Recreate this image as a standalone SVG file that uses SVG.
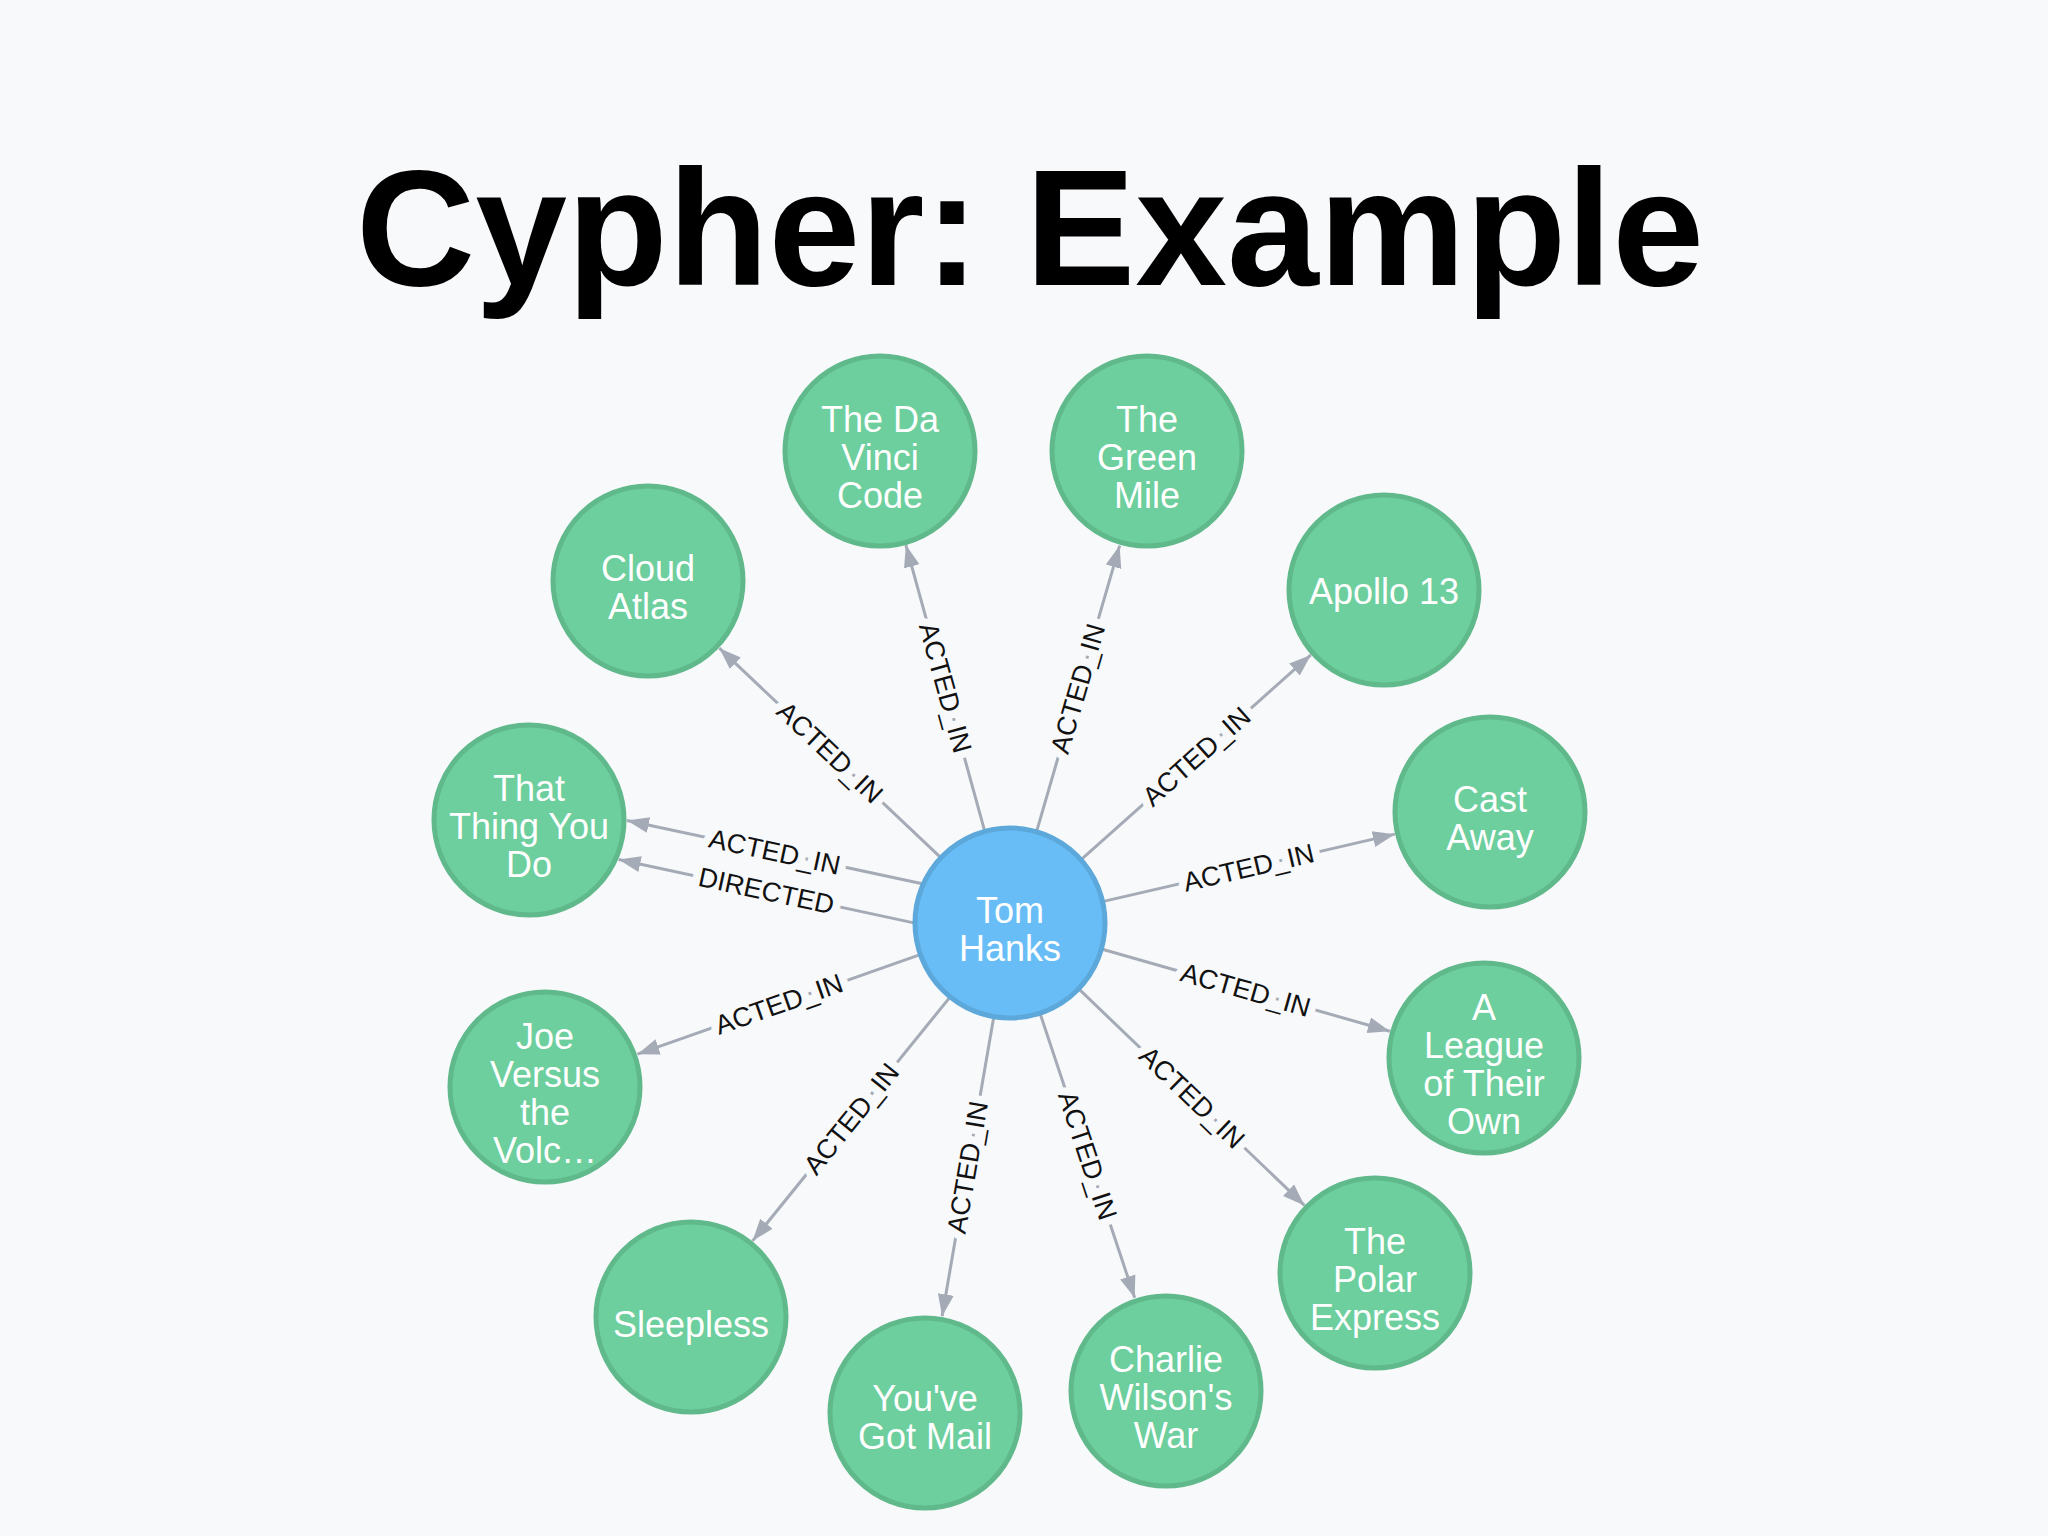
<svg xmlns="http://www.w3.org/2000/svg" width="2048" height="1536" viewBox="0 0 2048 1536">
<style>
.n circle{fill:#6dce9e;stroke:#60b98b;stroke-width:5}
#tom circle{fill:#68bdf6;stroke:#5ca8db}
.n text{font-family:"Liberation Sans",Arial,sans-serif;font-size:36px;fill:#fff;text-anchor:middle}
.e line{stroke:#a5abb6;stroke-width:3;marker-end:url(#ah)}
.e text{font-family:"Liberation Sans",Arial,sans-serif;font-size:27px;fill:#111;text-anchor:middle;dominant-baseline:central;stroke:#f8f9fb;stroke-width:16;paint-order:stroke}
</style>
<defs><marker id="ah" markerUnits="userSpaceOnUse" markerWidth="24" markerHeight="20" refX="22" refY="10" orient="auto"><path d="M0,2 L22,10 L0,18 z" fill="#a5abb6"/></marker></defs>
<rect width="2048" height="1536" fill="#f8f9fb"/>
<text x="1030" y="285" font-family="Liberation Sans,Arial,sans-serif" font-weight="bold" font-size="165" text-anchor="middle" fill="#000">Cypher: Example</text>
<g id="edges" class="e">
<g transform="translate(1010,923) rotate(-105.4)"><line x1="96" y1="0" x2="392" y2="0"/><text x="244" y="0" transform="rotate(180 244 0)">ACTED_IN</text></g>
<g transform="translate(1010,923) rotate(-73.8)"><line x1="96" y1="0" x2="393" y2="0"/><text x="244" y="0">ACTED_IN</text></g>
<g transform="translate(1010,923) rotate(-136.6)"><line x1="96" y1="0" x2="400" y2="0"/><text x="248" y="0" transform="rotate(180 248 0)">ACTED_IN</text></g>
<g transform="translate(1010,923) rotate(-41.7)"><line x1="96" y1="0" x2="403" y2="0"/><text x="250" y="0">ACTED_IN</text></g>
<g transform="translate(1010,923) rotate(-167.9)"><line x1="94" y1="20" x2="396" y2="20"/><text x="245" y="20" transform="rotate(180 245 20)">ACTED_IN</text>
<line x1="94" y1="-20" x2="396" y2="-20"/><text x="245" y="-20" transform="rotate(180 245 -20)">DIRECTED</text></g>
<g transform="translate(1010,923) rotate(-13)"><line x1="96" y1="0" x2="395" y2="0"/><text x="245" y="0">ACTED_IN</text></g>
<g transform="translate(1010,923) rotate(160.6)"><line x1="96" y1="0" x2="395" y2="0"/><text x="245" y="0" transform="rotate(180 245 0)">ACTED_IN</text></g>
<g transform="translate(1010,923) rotate(15.9)"><line x1="96" y1="0" x2="395" y2="0"/><text x="245" y="0">ACTED_IN</text></g>
<g transform="translate(1010,923) rotate(129)"><line x1="96" y1="0" x2="409" y2="0"/><text x="252" y="0" transform="rotate(180 252 0)">ACTED_IN</text></g>
<g transform="translate(1010,923) rotate(43.8)"><line x1="96" y1="0" x2="408" y2="0"/><text x="252" y="0">ACTED_IN</text></g>
<g transform="translate(1010,923) rotate(99.8)"><line x1="96" y1="0" x2="399" y2="0"/><text x="248" y="0" transform="rotate(180 248 0)">ACTED_IN</text></g>
<g transform="translate(1010,923) rotate(71.6)"><line x1="96" y1="0" x2="395" y2="0"/><text x="245" y="0">ACTED_IN</text></g>
</g>
<g id="tom" class="n"><circle cx="1010" cy="923" r="95"/><text x="1010" y="923">Tom</text><text x="1010" y="961">Hanks</text></g>
<g id="davinci" class="n"><circle cx="880" cy="451" r="95"/><text x="880" y="432">The Da</text><text x="880" y="470">Vinci</text><text x="880" y="508">Code</text></g>
<g id="greenmile" class="n"><circle cx="1147" cy="451" r="95"/><text x="1147" y="432">The</text><text x="1147" y="470">Green</text><text x="1147" y="508">Mile</text></g>
<g id="cloudatlas" class="n"><circle cx="648" cy="581" r="95"/><text x="648" y="581">Cloud</text><text x="648" y="619">Atlas</text></g>
<g id="apollo" class="n"><circle cx="1384" cy="590" r="95"/><text x="1384" y="604">Apollo 13</text></g>
<g id="thatthing" class="n"><circle cx="529" cy="820" r="95"/><text x="529" y="801">That</text><text x="529" y="839">Thing You</text><text x="529" y="877">Do</text></g>
<g id="castaway" class="n"><circle cx="1490" cy="812" r="95"/><text x="1490" y="812">Cast</text><text x="1490" y="850">Away</text></g>
<g id="joe" class="n"><circle cx="545" cy="1087" r="95"/><text x="545" y="1049">Joe</text><text x="545" y="1087">Versus</text><text x="545" y="1125">the</text><text x="545" y="1163">Volc…</text></g>
<g id="league" class="n"><circle cx="1484" cy="1058" r="95"/><text x="1484" y="1020">A</text><text x="1484" y="1058">League</text><text x="1484" y="1096">of Their</text><text x="1484" y="1134">Own</text></g>
<g id="sleepless" class="n"><circle cx="691" cy="1317" r="95"/><text x="691" y="1337">Sleepless</text></g>
<g id="polar" class="n"><circle cx="1375" cy="1273" r="95"/><text x="1375" y="1254">The</text><text x="1375" y="1292">Polar</text><text x="1375" y="1330">Express</text></g>
<g id="mail" class="n"><circle cx="925" cy="1413" r="95"/><text x="925" y="1411">You've</text><text x="925" y="1449">Got Mail</text></g>
<g id="charlie" class="n"><circle cx="1166" cy="1391" r="95"/><text x="1166" y="1372">Charlie</text><text x="1166" y="1410">Wilson's</text><text x="1166" y="1448">War</text></g>
</svg>
